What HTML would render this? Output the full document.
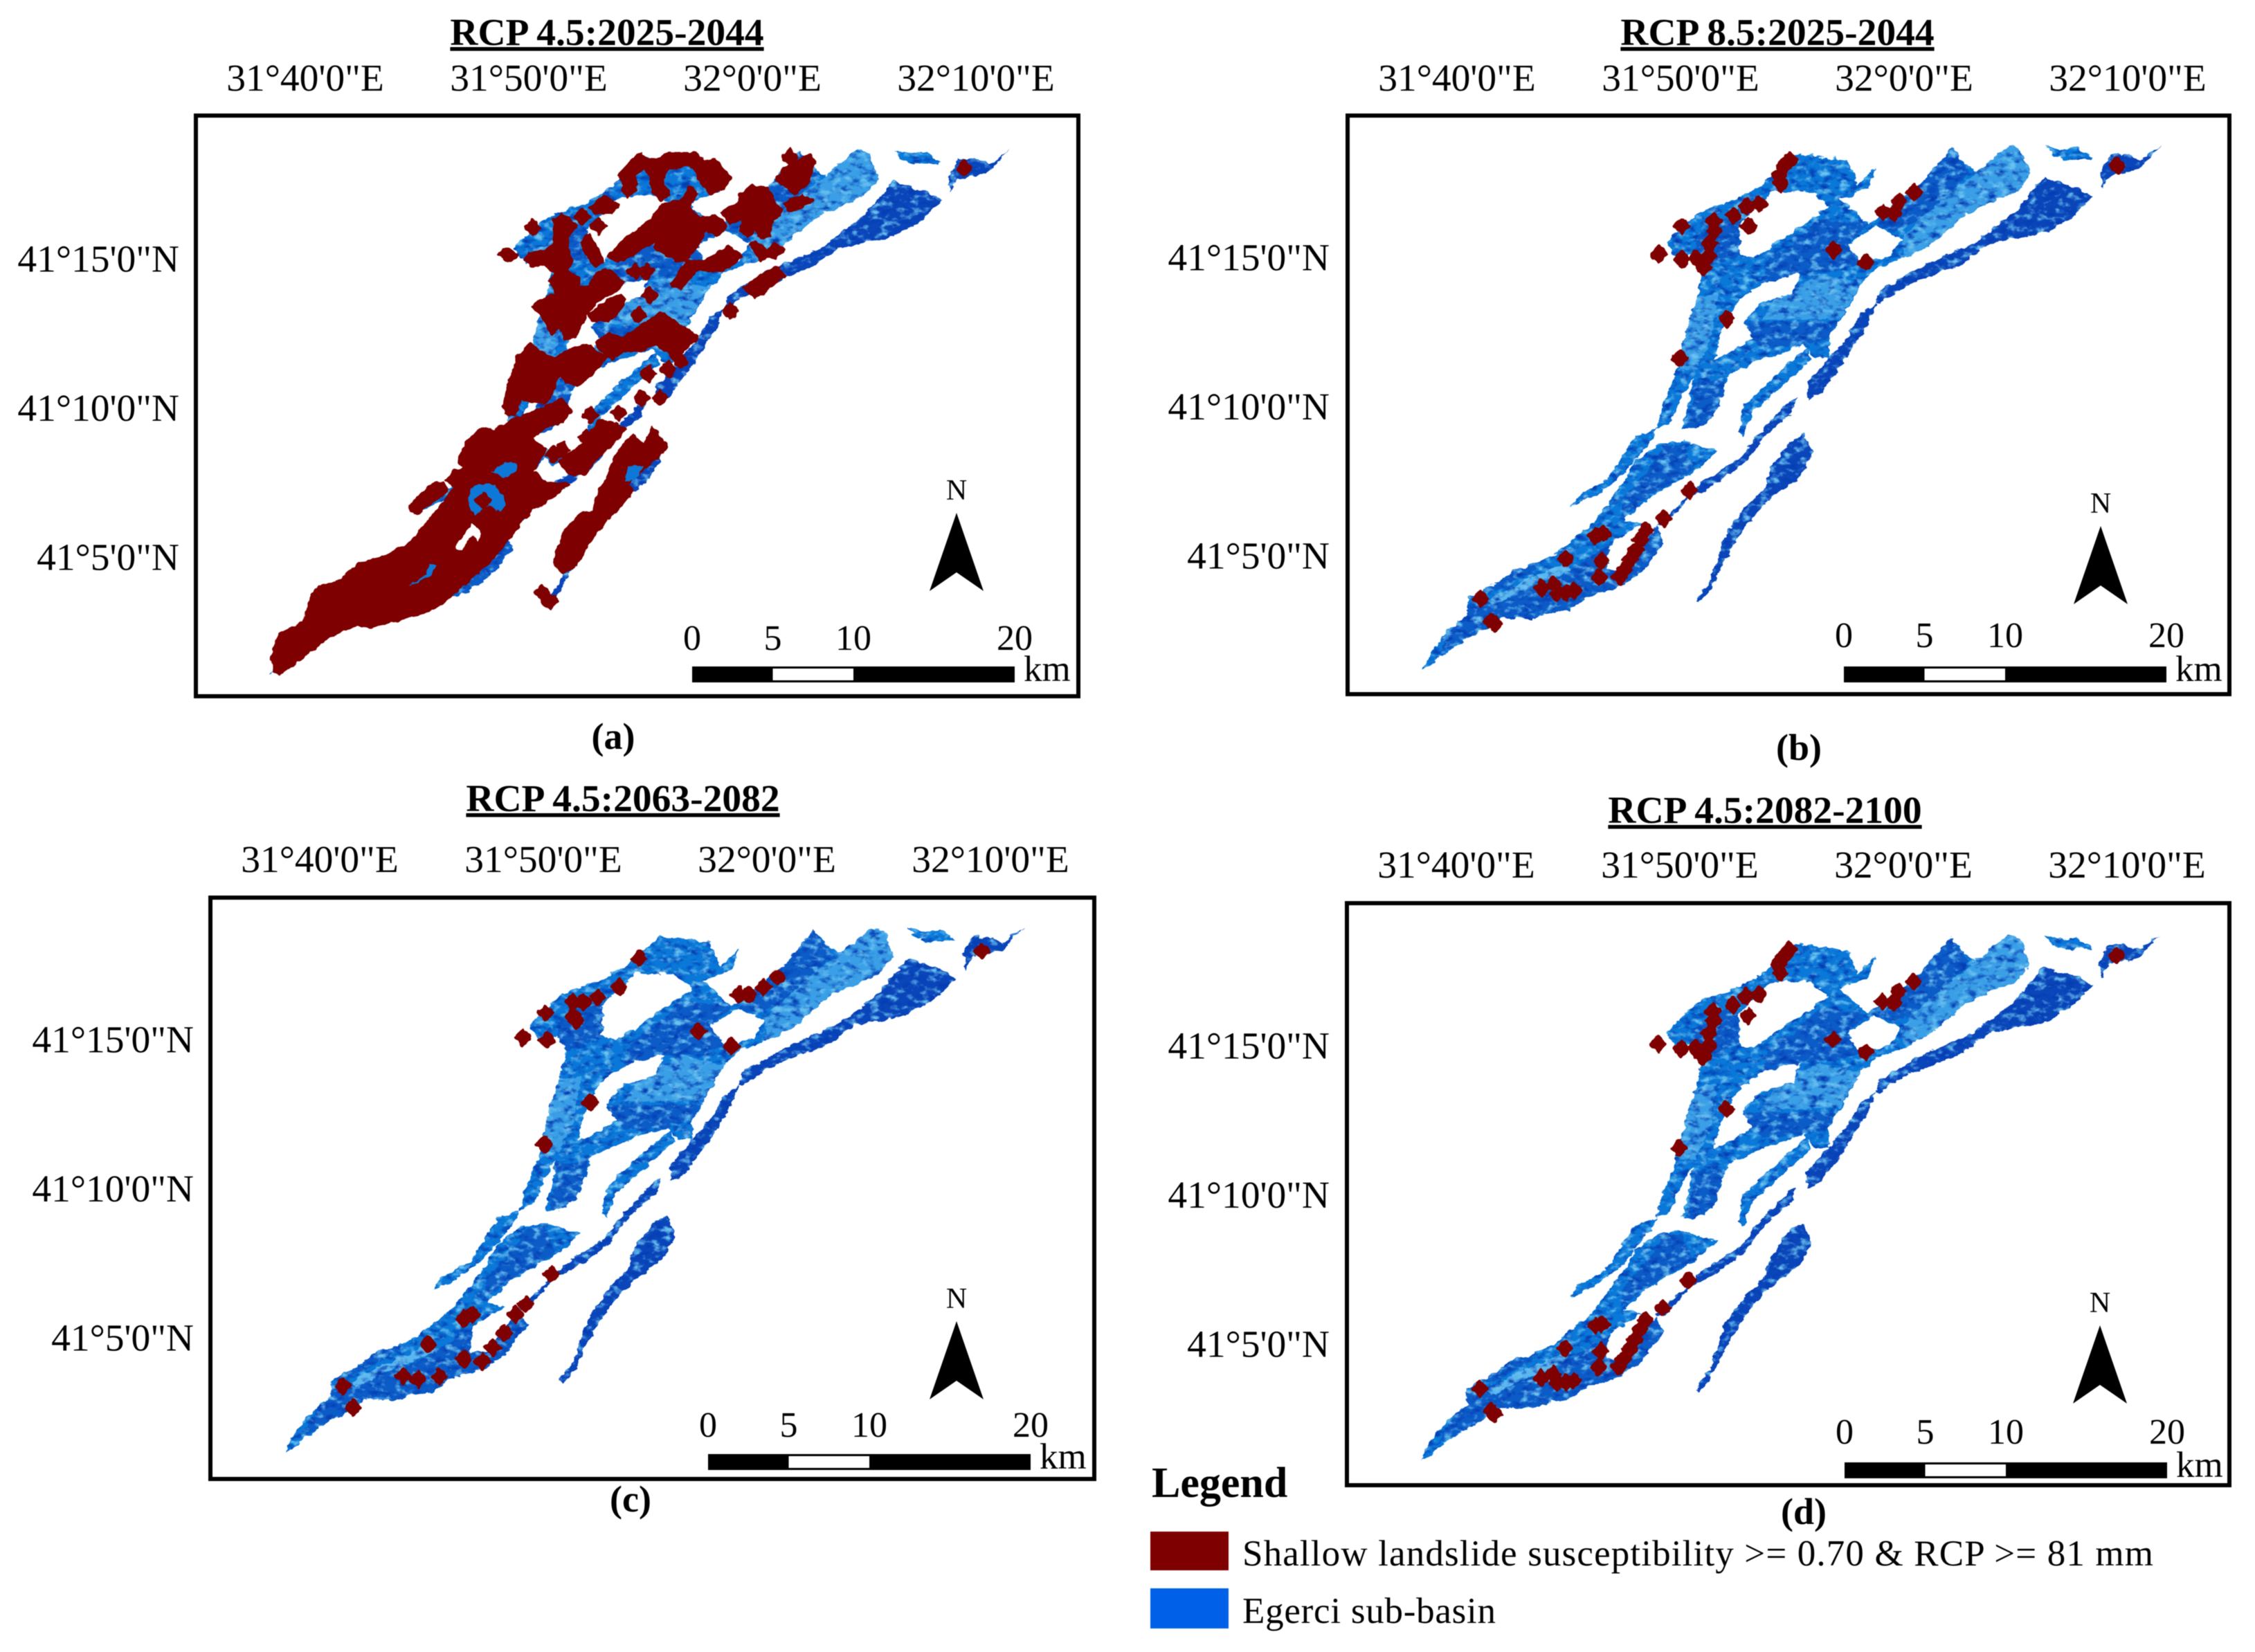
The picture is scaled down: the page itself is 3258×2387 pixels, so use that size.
<!DOCTYPE html>
<html lang="en">
<head>
<meta charset="utf-8">
<title>Shallow landslide susceptibility under RCP scenarios</title>
<style>
html,body{margin:0;padding:0;background:#fff;width:3258px;height:2387px;overflow:hidden}
svg{display:block;filter:blur(0.6px)}
text{font-family:"Liberation Serif",serif;fill:#000}
</style>
</head>
<body>
<svg id="figure" xmlns="http://www.w3.org/2000/svg" width="3258" height="2387" viewBox="0 0 3258 2387">
  <defs>
    <filter id="mottle" x="-5%" y="-5%" width="110%" height="110%" color-interpolation-filters="sRGB">
      <feTurbulence type="fractalNoise" baseFrequency="0.07 0.11" numOctaves="3" seed="7" result="noise"/>
      <feDisplacementMap in="SourceGraphic" in2="noise" scale="10" xChannelSelector="R" yChannelSelector="G" result="rough"/>
      <feColorMatrix in="noise" type="matrix" values="0 0 0 0 0.02  0 0 0 0 0.24  0 0 0 0 0.70  3.2 0 0 0 -1.55" result="darkNoise"/>
      <feComposite in="darkNoise" in2="rough" operator="in" result="darkMottle"/>
      <feColorMatrix in="noise" type="matrix" values="0 0 0 0 0.42  0 0 0 0 0.76  0 0 0 0 0.94  0 3.4 0 0 -1.75" result="lightNoise"/>
      <feComposite in="lightNoise" in2="rough" operator="in" result="lightMottle"/>
      <feMerge>
        <feMergeNode in="rough"/>
        <feMergeNode in="darkMottle"/>
        <feMergeNode in="lightMottle"/>
      </feMerge>
    </filter>
    <filter id="lumpy" x="-3%" y="-3%" width="106%" height="106%">
      <feTurbulence type="fractalNoise" baseFrequency="0.1" numOctaves="2" seed="4" result="lumps"/>
      <feDisplacementMap in="SourceGraphic" in2="lumps" scale="7" xChannelSelector="R" yChannelSelector="G"/>
    </filter>
  </defs>

  <g id="panels"></g>

  <g>
    <text x="1664" y="2163" font-size="62" font-weight="bold">Legend</text>
    <rect x="1662" y="2213" width="113" height="56" fill="#7f0000"/>
    <text x="1795" y="2262" font-size="53" textLength="1316" lengthAdjust="spacing">Shallow landslide susceptibility &gt;= 0.70 &amp; RCP &gt;= 81 mm</text>
    <rect x="1662" y="2295" width="113" height="58" fill="#0060e8"/>
    <text x="1795" y="2345" font-size="53" textLength="366" lengthAdjust="spacing">Egerci sub-basin</text>
  </g>
</svg>

<script>
// All geometry is [longitude, latitude] in arc-minutes east of 31°40' and north of 41°00'.
const lonTicks = [0, 10, 20, 30];
const lonTickLabels = ['31°40\'0"E', '31°50\'0"E', '32°0\'0"E', '32°10\'0"E'];
const latTicks = [15, 10, 5];
const latTickLabels = ['41°15\'0"N', '41°10\'0"N', '41°5\'0"N'];
const scaleKm = [0, 5, 10, 20];

const basinRing = [[9.74,11.08],[10.22,12.57],[10.71,13.73],[11.03,14.72],[10.55,15.22],[9.90,14.97],[9.36,15.55],[10.06,16.08],[10.87,16.62],[12.48,17.04],[13.60,17.50],[14.41,18.03],[15.21,18.56],[17.46,18.33],[17.94,17.53],[18.75,18.11],[18.42,17.40],[17.14,17.04],[18.42,16.21],[19.39,16.71],[20.68,17.53],[21.64,18.36],[22.12,18.77],[22.77,18.20],[23.25,17.95],[23.89,18.36],[24.69,18.86],[25.24,18.69],[25.66,17.86],[25.02,17.28],[23.73,16.87],[22.77,16.54],[21.32,15.55],[20.03,15.05],[18.75,14.72],[18.10,14.22],[17.46,13.39],[16.66,12.40],[16.66,11.71],[16.01,11.74],[15.53,12.15],[13.60,11.66],[12.15,11.16],[10.55,11.08]];
const basinHoleNorth = [[14.08,17.28],[15.85,17.28],[16.66,16.79],[15.05,15.96],[13.28,15.05],[12.64,15.22],[12.64,16.21]];
const basinHoleCentre = [[15.37,14.55],[15.05,13.89],[13.60,13.56],[12.80,12.90],[13.28,12.40],[12.64,12.07],[11.51,11.66],[11.83,12.57],[12.48,13.56],[13.60,14.22]];
const basinHoleEast = [[17.46,15.55],[18.75,16.13],[19.87,15.71],[19.39,15.13],[18.10,14.88]];
const basinSouthWest = [[-1.58,1.25],[-1.09,1.93],[-0.47,2.51],[0.46,3.09],[0.46,3.63],[1.80,4.17],[2.42,4.56],[3.66,4.87],[4.49,5.18],[5.11,5.60],[5.88,6.03],[6.69,6.77],[7.49,7.60],[7.97,8.26],[9.10,8.84],[10.06,8.92],[11.67,8.59],[10.71,7.93],[9.74,7.52],[8.46,6.94],[7.49,6.27],[8.30,6.14],[6.85,5.45],[6.69,4.62],[7.49,4.62],[8.94,6.08],[9.26,5.49],[8.31,4.56],[7.17,3.98],[5.83,3.71],[5.0,3.24],[4.28,3.20],[3.35,2.97],[2.84,2.97],[2.01,3.01],[1.39,2.66],[0.36,2.24],[-0.88,1.62],[-1.19,1.35]];
const basinStrandWest = [[5.08,6.69],[5.40,7.10],[6.69,7.60],[7.97,9.09],[8.94,9.34],[8.62,8.84],[7.17,7.60],[6.21,7.10],[5.24,6.74]];
const basinStrandLeft = [[8.94,9.34],[9.26,10.25],[9.74,11.08],[10.55,11.08],[10.06,10.41],[9.58,9.59]];
const basinStrandCentre = [[10.55,11.08],[12.15,11.16],[11.83,10.41],[11.51,9.75],[10.71,9.34],[10.06,9.34],[10.39,10.25]];
const basinStrandMiddle = [[12.64,9.25],[12.80,10.08],[13.92,10.91],[15.69,12.07],[15.85,11.66],[14.25,10.58],[13.28,9.92],[12.80,9.09]];
const basinEastSmall = [[26.30,18.82],[27.11,18.69],[27.75,18.77],[28.46,18.39],[27.11,18.36],[26.62,18.53]];

const darkStrandRight = [[8.94,6.11],[9.90,6.77],[11.03,7.60],[12.64,8.34],[13.60,9.25],[14.73,10.17],[15.21,10.41],[15.05,9.92],[13.76,9.09],[12.96,8.26],[11.67,7.52],[10.39,7.02],[9.36,6.11]];
const darkRidgeSouth = [[15.69,10.33],[15.69,10.91],[17.46,12.40],[18.10,13.23],[18.75,13.56],[18.42,12.90],[17.46,11.74],[16.33,10.58]];
const darkRidgeNorth = [[18.75,13.56],[18.91,13.97],[21.00,14.88],[23.09,15.55],[24.86,16.54],[26.30,17.78],[27.75,17.45],[28.46,17.12],[27.43,16.37],[26.14,15.88],[23.89,15.55],[22.60,14.88],[20.35,14.22],[18.91,13.56]];
const darkEastTip = [[28.78,17.95],[29.20,18.53],[29.84,18.53],[30.6,18.35],[31.5,18.85],[30.5,18.05],[29.20,17.86],[28.87,17.40]];
const darkSouthLobe = [[10.71,3.63],[11.35,4.29],[12.0,5.78],[12.96,6.77],[13.76,7.35],[14.08,8.10],[14.89,8.92],[15.53,9.17],[15.92,8.51],[15.37,7.76],[13.92,6.94],[12.96,6.11],[12.0,4.95],[11.35,3.96],[10.87,3.54]];

const shadeLowerBody = [[-0.9,1.75],[-0.3,2.5],[0.5,3.5],[1.5,3.6],[2.8,3.9],[4.4,4.3],[5.88,5.0],[6.85,5.45],[6.69,4.62],[7.49,4.62],[8.94,6.08],[9.26,5.49],[8.31,4.56],[7.17,3.98],[5.83,3.71],[5.0,3.24],[4.28,3.20],[3.35,2.97],[2.84,2.97],[2.01,3.01],[1.39,2.66],[0.36,2.24]];
const shadeLowerStrip = [[0.46,3.63],[1.80,4.17],[2.42,4.56],[3.66,4.87],[3.6,4.7],[2.0,4.0]];
const shadeBlob = [[7.49,7.10],[8.46,7.93],[9.26,8.76],[10.06,8.84],[10.55,7.96],[9.42,7.43],[8.30,6.94],[7.33,6.35]];
const shadeCentral = [[10.55,10.91],[12.0,11.0],[11.83,10.41],[11.51,9.75],[10.71,9.34],[10.23,9.42],[10.55,10.25]];
const shadeNorthEast = [[21.64,18.36],[22.12,18.77],[22.93,17.95],[21.96,17.20],[20.68,16.37],[19.55,15.96],[18.75,16.13],[19.39,16.71],[20.68,17.53]];
const shadeHeart = [[16.17,16.37],[18.42,16.21],[17.46,15.55],[18.10,14.88],[16.98,14.64],[15.37,14.55],[13.60,14.22],[13.92,15.05],[15.05,15.55]];
const shadeWaist = [[12.80,12.90],[14.89,12.90],[16.98,12.90],[16.66,12.40],[15.53,12.15],[13.60,12.07],[13.12,12.40]];
const shadeNeck = [[10.71,15.71],[11.99,16.37],[12.64,16.21],[12.80,15.22],[11.03,14.72],[10.55,15.22]];

const paleNorthEast = [[23.25,17.95],[24.69,18.86],[25.24,18.69],[25.66,17.86],[25.02,17.28],[23.73,16.87],[22.77,16.54],[21.32,15.55],[20.03,15.05],[19.87,15.71],[21.3,16.9]];
const paleCentre = [[14.25,13.72],[16.17,14.55],[18.10,14.22],[17.14,13.06],[13.60,12.98]];
const paleWest = [[10.22,12.57],[10.71,13.73],[11.67,13.89],[11.35,12.40],[10.71,11.33],[9.90,11.33]];
const paleStreak = [[1.4,3.6],[2.85,4.2],[4.9,4.85],[5.1,4.6],[2.85,3.9],[1.6,3.4]];

// Panel (a) susceptible zones
const zonesA = [
  [[-1.38,1.34],[-1.51,1.81],[-1.13,2.58],[-0.12,2.97],[0.07,3.28],[0.32,3.97],[0.64,4.17],[1.39,4.28],[2.40,4.94],[3.54,5.17],[4.68,5.64],[5.69,6.53],[6.32,7.14],[6.70,7.53],[6.32,7.76],[6.70,8.07],[7.14,8.15],[6.89,8.38],[7.20,9.0],[7.84,9.46],[8.47,9.43],[9.48,9.85],[10.36,10.08],[11.50,10.47],[11.88,10.08],[11.50,9.70],[10.74,9.54],[10.11,9.12],[10.74,8.77],[10.23,8.15],[10.74,7.68],[11.75,7.61],[10.74,6.99],[10.11,6.80],[9.86,6.53],[9.22,5.91],[8.47,5.21],[7.71,4.67],[6.45,3.82],[5.69,3.43],[4.43,3.12],[2.91,2.85],[2.28,2.93],[0.89,2.43],[-0.25,1.73],[-1.13,1.27]],
  [[4.68,6.76],[4.68,6.91],[5.69,7.61],[6.19,7.69],[6.32,7.38],[5.56,6.95],[4.99,6.60]],
  [[11.37,8.38],[12.38,8.92],[13.14,9.73],[13.77,9.70],[14.28,9.46],[13.77,9.0],[13.01,8.46],[12.51,7.99],[11.88,7.92]],
  [[13.01,7.14],[13.52,7.84],[13.90,8.61],[14.66,9.27],[15.16,8.92],[15.54,9.54],[16.17,8.85],[15.79,8.54],[15.03,8.07],[14.40,7.61],[14.66,7.38],[13.90,6.68],[12.89,6.68]],
  [[11.12,4.98],[11.62,6.06],[12.38,6.64],[13.01,6.68],[13.77,6.68],[13.27,6.22],[12.63,5.60],[12.13,4.90],[11.50,4.67]],
  [[8.89,10.24],[9.06,10.86],[9.50,11.86],[10.05,12.33],[10.50,12.02],[11.16,11.86],[12.16,12.21],[12.60,12.29],[13.48,11.86],[13.04,11.48],[12.16,10.93],[11.66,11.01],[11.38,11.32],[11.05,10.70],[10.72,10.32],[10.28,10.39],[9.61,10.47],[9.39,9.93],[8.95,10.01]],
  [[11.10,16.43],[11.49,16.66],[12.16,16.27],[11.71,15.96],[11.77,15.50],[11.93,15.11],[11.71,14.80],[12.27,14.49],[12.16,14.18],[12.71,14.26],[13.04,14.65],[13.43,14.84],[14.26,14.41],[13.93,14.11],[13.26,13.87],[12.71,13.49],[12.38,13.02],[12.05,12.56],[11.60,12.48],[11.38,12.95],[11.05,12.64],[10.61,13.25],[10.17,13.56],[10.61,13.80],[11.27,14.03],[10.94,14.41],[11.16,14.72],[10.72,14.96],[10.17,14.92],[9.83,15.15],[10.05,15.38],[10.72,15.42],[11.16,15.73],[11.16,16.12]],
  [[12.38,15.73],[12.71,16.0],[13.32,15.11],[12.99,14.92],[12.49,15.42]],
  [[12.71,13.33],[13.59,13.80],[14.15,13.99],[14.31,13.80],[13.93,13.33],[13.59,13.10],[12.82,13.10]],
  [[12.99,12.40],[13.59,12.68],[14.15,12.48],[15.92,13.37],[17.58,12.56],[16.80,12.02],[17.08,11.71],[16.80,11.51],[16.25,12.02],[15.70,12.33],[15.03,12.10],[14.26,12.10],[13.70,11.82],[13.26,12.10]],
  [[13.54,15.27],[14.26,15.81],[15.14,16.27],[16.03,17.0],[16.80,17.12],[17.24,17.59],[17.52,17.35],[17.13,16.89],[17.69,16.50],[18.24,16.62],[18.68,16.43],[18.79,16.19],[18.46,15.96],[17.91,16.16],[17.63,15.73],[17.02,15.11],[16.58,15.11],[15.58,15.58],[15.81,15.88],[15.14,15.58],[14.04,15.07]],
  [[13.98,17.97],[14.48,18.36],[15.03,18.71],[15.36,18.51],[15.81,18.51],[16.25,18.71],[17.41,18.71],[17.85,18.44],[18.35,18.51],[19.01,17.90],[18.68,17.51],[18.13,17.35],[17.69,17.74],[17.35,18.28],[16.91,18.32],[16.25,18.20],[15.97,17.82],[16.25,17.35],[15.92,17.16],[15.53,17.43],[15.47,17.90],[15.14,18.24],[14.75,17.97],[14.81,17.66],[14.48,17.51],[14.15,17.82]],
  [[21.11,17.90],[21.44,18.20],[22.11,18.51],[22.55,18.67],[22.77,18.44],[22.55,17.82],[21.89,17.35],[21.11,17.82]],
  [[18.63,16.74],[19.34,17.04],[19.46,17.35],[20.01,17.62],[20.67,17.55],[21.0,17.04],[21.34,16.81],[20.78,16.35],[20.78,15.96],[20.45,15.88],[20.12,16.16],[19.79,15.88],[19.46,16.12],[19.57,16.50],[19.90,16.66],[19.01,16.35]],
  [[16.36,14.34],[17.13,15.11],[17.91,15.11],[18.90,15.58],[19.51,15.27],[19.12,14.96],[18.24,14.72],[17.57,14.84],[16.80,14.18]],
  [[19.90,15.65],[20.17,15.73],[20.62,15.42],[21.0,15.69],[21.39,15.50],[21.06,15.23],[20.62,15.27],[20.40,15.11]],
  [[21.45,17.04],[22.22,17.32],[22.66,17.12],[22.22,16.89],[21.67,16.81]],
  [[19.62,14.18],[20.45,14.65],[21.06,14.88],[21.45,14.65],[20.84,14.26],[20.12,13.87]],
  [[12.71,16.89],[13.37,17.28],[14.04,16.97],[13.70,16.74],[12.93,16.70]],
  [[8.62,15.34],[9.0,15.54],[9.50,15.30],[9.06,15.07]]
];
const exposedBlueA = [
  [[7.39,7.45],[7.71,7.61],[8.47,7.61],[8.85,7.22],[8.97,6.91],[8.72,6.68],[8.21,6.91],[7.58,6.56],[7.27,6.91]],
  [[8.34,8.03],[8.97,8.38],[9.48,8.30],[9.41,8.0],[8.97,7.84]],
  [[4.68,4.24],[5.44,4.59],[5.56,4.94],[5.88,4.90],[5.56,4.51]],
  [[14.40,8.23],[15.10,8.23],[14.78,7.76],[14.34,7.69]]
];
const clearedWhiteA = [
  [[6.70,5.52],[7.20,5.98],[7.46,6.29],[7.84,6.06],[7.77,5.67],[7.46,5.91],[7.01,5.40]],
  [[10.23,8.07],[10.74,8.54],[11.37,7.92],[10.74,7.76]]
];
const landslidesA = [[10.17,16.23],[12.38,16.58],[13.10,16.27],[14.75,14.76],[15.25,14.76],[15.42,13.95],[14.90,13.29],[19.01,13.41],[21.67,18.59],[15.36,11.32],[16.25,11.48],[15.03,10.51],[15.86,10.51],[12.76,9.94],[12.57,9.17],[14.02,10.0],[7.96,7.07],[10.61,3.97],[10.93,3.70],[11.12,8.61],[11.50,8.77],[29.47,18.2],[14.48,17.51]];
const landslidesB = [[14.63,18.11],[14.41,17.86],[14.89,18.33],[14.50,17.57],[13.54,16.87],[12.96,16.79],[12.38,16.49],[13.05,16.13],[11.51,16.29],[11.51,15.96],[11.29,15.55],[11.29,15.13],[10.71,15.05],[10.06,15.02],[11.03,14.75],[9.04,15.20],[10.06,16.13],[16.85,15.33],[18.30,14.92],[19.07,16.61],[19.55,16.57],[19.78,16.95],[20.45,17.27],[29.52,18.15],[12.09,13.01],[9.97,11.70],[10.39,7.27],[9.26,6.34],[6.53,5.81],[6.21,5.74],[4.86,4.98],[6.46,4.90],[6.37,4.35],[8.46,5.94],[8.20,5.61],[8.01,5.28],[7.75,4.95],[7.49,4.62],[7.27,4.37],[3.79,3.99],[4.34,4.12],[4.50,3.82],[5.24,3.91],[4.92,3.84],[1.06,3.63],[1.54,2.88],[1.70,2.80]];
const landslidesC = [[9.08,15.14],[10.11,15.97],[10.17,15.05],[11.33,15.87],[11.33,16.35],[11.46,15.72],[11.78,16.35],[12.43,16.5],[13.39,16.84],[14.29,17.80],[16.94,15.34],[18.42,14.86],[18.74,16.59],[19.19,16.59],[19.83,16.84],[20.48,17.17],[29.62,18.04],[12.1,12.97],[10.05,11.57],[10.37,7.22],[9.21,6.21],[8.76,5.87],[8.24,5.24],[7.73,4.76],[7.28,4.28],[6.44,5.72],[6.83,5.87],[4.83,4.86],[6.44,4.37],[5.34,3.79],[4.38,3.70],[3.73,3.79],[1.03,3.45],[1.48,2.73]];
const landslidesD = [[14.63,18.11],[14.41,17.86],[14.89,18.33],[14.50,17.57],[13.54,16.87],[12.96,16.79],[12.38,16.49],[13.05,16.13],[11.51,16.29],[11.51,15.96],[11.29,15.55],[11.29,15.13],[10.71,15.05],[10.06,15.02],[11.03,14.75],[9.04,15.20],[16.85,15.33],[18.30,14.92],[19.07,16.61],[19.55,16.57],[19.78,16.95],[20.45,17.27],[29.52,18.15],[12.09,13.01],[9.97,11.70],[10.39,7.27],[9.26,6.34],[6.53,5.81],[6.21,5.74],[4.86,4.98],[6.46,4.90],[6.37,4.35],[8.46,5.94],[8.20,5.61],[8.01,5.28],[7.75,4.95],[7.49,4.62],[7.27,4.37],[3.79,3.99],[4.34,4.12],[4.50,3.82],[5.24,3.91],[4.92,3.84],[1.06,3.63],[1.54,2.88],[1.70,2.80]];

const BASE_BLUE = '#0a78d8', DARK_BLUE = '#0a46ba', MID_BLUE = '#0c5cc8', PALE_BLUE = '#3a9fe6', RED = '#7f0000';
const PX_PER_LON = 32.3, PX_PER_LAT = 43.1, PX_PER_KM = 23.3;
const SVG_NS = 'http://www.w3.org/2000/svg';

const panelLayouts = [
  {id:'a', title:'RCP 4.5:2025-2044', caption:'(a)', frame:[283,167,1275,839], lon0:441, lat0:1028, labelLat0:1021, titleAt:[877,65], captionAt:[886,1082], lonY:131, latRight:259, bar:[1000,963], barLabelY:939, arrow:[1382,741], landslides:landslidesA, zones:zonesA, exposed:exposedBlueA, cleared:clearedWhiteA},
  {id:'b', title:'RCP 8.5:2025-2044', caption:'(b)', frame:[1947,167,1274,836], lon0:2105, lat0:1022, labelLat0:1019, titleAt:[2568,65], captionAt:[2599,1098], lonY:131, latRight:1921, bar:[2664,963], barLabelY:935, arrow:[3035,760], landslides:landslidesB, zones:[], exposed:[], cleared:[]},
  {id:'c', title:'RCP 4.5:2063-2082', caption:'(c)', frame:[304,1297,1277,840], lon0:462, lat0:2152, labelLat0:2149, titleAt:[900,1172], captionAt:[911,2184], lonY:1260, latRight:280, bar:[1023,2101], barLabelY:2076, arrow:[1382,1909], landslides:landslidesC, zones:[], exposed:[], cleared:[]},
  {id:'d', title:'RCP 4.5:2082-2100', caption:'(d)', frame:[1946,1305,1275,841], lon0:2104, lat0:2163, labelLat0:2158, titleAt:[2550,1189], captionAt:[2606,2202], lonY:1268, latRight:1921, bar:[2665,2113], barLabelY:2086, arrow:[3034,1915], landslides:landslidesD, zones:[], exposed:[], cleared:[]}
];

function make(tag, attrs, parent) {
  const el = document.createElementNS(SVG_NS, tag);
  for (const k in attrs) el.setAttribute(k, attrs[k]);
  parent.appendChild(el);
  return el;
}
function ringPath(ring, xs, ys) {
  return 'M' + ring.map(p => xs(p[0]).toFixed(1) + ' ' + ys(p[1]).toFixed(1)).join('L') + 'Z';
}
function label(parent, x, y, size, anchor, content, bold) {
  const t = make('text', {x: x, y: y, 'font-size': size, 'text-anchor': anchor}, parent);
  if (bold) t.setAttribute('font-weight', 'bold');
  t.textContent = content;
  return t;
}

const panelsRoot = document.getElementById('panels');

panelLayouts.forEach(function (panel) {
  const xScale = lon => panel.lon0 + lon * PX_PER_LON;
  const yScale = lat => panel.lat0 - lat * PX_PER_LAT;
  const latLabelY = lat => panel.labelLat0 - lat * PX_PER_LAT;

  const g = make('g', {}, panelsRoot);
  
  

  const title = label(g, panel.titleAt[0], panel.titleAt[1], 55.5, 'middle', panel.title, true);
  title.setAttribute('text-decoration', 'underline');
  
  

  const caption = label(g, panel.captionAt[0], panel.captionAt[1], 54, 'middle', panel.caption, true);
  
  

  lonTicks.forEach(function (tick, i) {
    const t = label(g, xScale(tick), panel.lonY, 55.5, 'middle', lonTickLabels[i]);
    
    
  });
  latTicks.forEach(function (tick, i) {
    const t = label(g, panel.latRight, latLabelY(tick) + 18, 55.5, 'end', latTickLabels[i]);
    
    
  });

  // Basin clip, so shaded zones never spill into the holes
  const solidRings = [basinSouthWest, basinStrandWest, basinStrandLeft, basinStrandCentre, basinStrandMiddle, basinEastSmall];
  const holes = [basinHoleNorth, basinHoleCentre, basinHoleEast];
  const mainPath = [basinRing].concat(holes).map(r => ringPath(r, xScale, yScale)).join('');
  const solidPath = solidRings.map(r => ringPath(r, xScale, yScale)).join('');

  const clip = make('clipPath', {id: 'basin-clip-' + panel.id}, g);
  make('path', {d: mainPath, 'clip-rule': 'evenodd'}, clip);
  make('path', {d: solidPath}, clip);

  const basin = make('g', {filter: 'url(#mottle)'}, g);
  
  

  const mainShape = make('path', {d: mainPath, fill: BASE_BLUE, 'fill-rule': 'evenodd'}, basin);
  
  

  const solidShape = make('path', {d: solidPath, fill: BASE_BLUE}, basin);
  
  

  const shaded = make('g', {'clip-path': 'url(#basin-clip-' + panel.id + ')'}, basin);
  
  
  [paleNorthEast, paleCentre, paleWest].forEach(function (ring) {
    const p = make('path', {d: ringPath(ring, xScale, yScale), fill: PALE_BLUE}, shaded);
    
    
  });
  [shadeLowerBody, shadeLowerStrip, shadeBlob, shadeCentral, shadeNorthEast, shadeHeart, shadeWaist, shadeNeck].forEach(function (ring) {
    const p = make('path', {d: ringPath(ring, xScale, yScale), fill: MID_BLUE}, shaded);
    
    
  });
  const streak = make('path', {d: ringPath(paleStreak, xScale, yScale), fill: '#5ab6ee'}, shaded);
  
  
  [darkStrandRight, darkRidgeSouth, darkRidgeNorth, darkEastTip, darkSouthLobe].forEach(function (ring) {
    const p = make('path', {d: ringPath(ring, xScale, yScale), fill: DARK_BLUE}, basin);
    
    
  });

  // Susceptible landslide areas
  const slides = make('g', {fill: RED, stroke: RED, 'stroke-linejoin': 'round', filter: 'url(#lumpy)'}, g);
  
  
  panel.zones.forEach(function (ring) {
    const p = make('path', {d: ringPath(ring, xScale, yScale), 'stroke-width': 4}, slides);
    
    
  });
  panel.exposed.forEach(function (ring) {
    const p = make('path', {d: ringPath(ring, xScale, yScale), fill: BASE_BLUE, stroke: 'none'}, slides);
    
    
  });
  panel.cleared.forEach(function (ring) {
    const p = make('path', {d: ringPath(ring, xScale, yScale), fill: '#fff', stroke: 'none'}, slides);
    
    
  });
  panel.landslides.forEach(function (pt) {
    const cx = xScale(pt[0]), cy = yScale(pt[1]);
    const d = make('path', {
      d: 'M' + cx + ' ' + (cy - 10.5) + 'L' + (cx + 10) + ' ' + cy + 'L' + cx + ' ' + (cy + 10.5) + 'L' + (cx - 10) + ' ' + cy + 'Z',
      'stroke-width': 5
    }, slides);
    
    
  });

  // Frame
  const frame = make('rect', {x: panel.frame[0], y: panel.frame[1], width: panel.frame[2], height: panel.frame[3], fill: 'none', stroke: '#000', 'stroke-width': 6}, g);
  
  

  // Scale bar
  const bar = make('g', {}, g);
  
  
  const kmX = km => panel.bar[0] + km * PX_PER_KM;
  const barTop = panel.bar[1];
  const barBg = make('rect', {x: kmX(scaleKm[0]), y: barTop, width: kmX(scaleKm[3]) - kmX(scaleKm[0]), height: 23, fill: '#000'}, bar);
  
  
  const barWhite = make('rect', {x: kmX(scaleKm[1]), y: barTop + 3, width: kmX(scaleKm[2]) - kmX(scaleKm[1]), height: 17, fill: '#fff'}, bar);
  
  
  scaleKm.forEach(function (km) {
    const t = label(bar, kmX(km), panel.barLabelY, 52, 'middle', String(km));
    
    
  });
  const kmText = label(bar, kmX(scaleKm[3]) + 13, barTop + 21, 53, 'start', 'km');
  
  

  // North arrow
  const ax = panel.arrow[0], ay = panel.arrow[1];
  const north = make('g', {}, g);
  
  
  const northLabel = label(north, ax, ay - 19, 42, 'middle', 'N');
  
  
  const arrowHead = make('path', {d: 'M' + ax + ' ' + ay + 'L' + (ax + 39) + ' ' + (ay + 113) + 'L' + ax + ' ' + (ay + 86) + 'L' + (ax - 39) + ' ' + (ay + 113) + 'Z', fill: '#000'}, north);
  
  
});
</script>
</body>
</html>
